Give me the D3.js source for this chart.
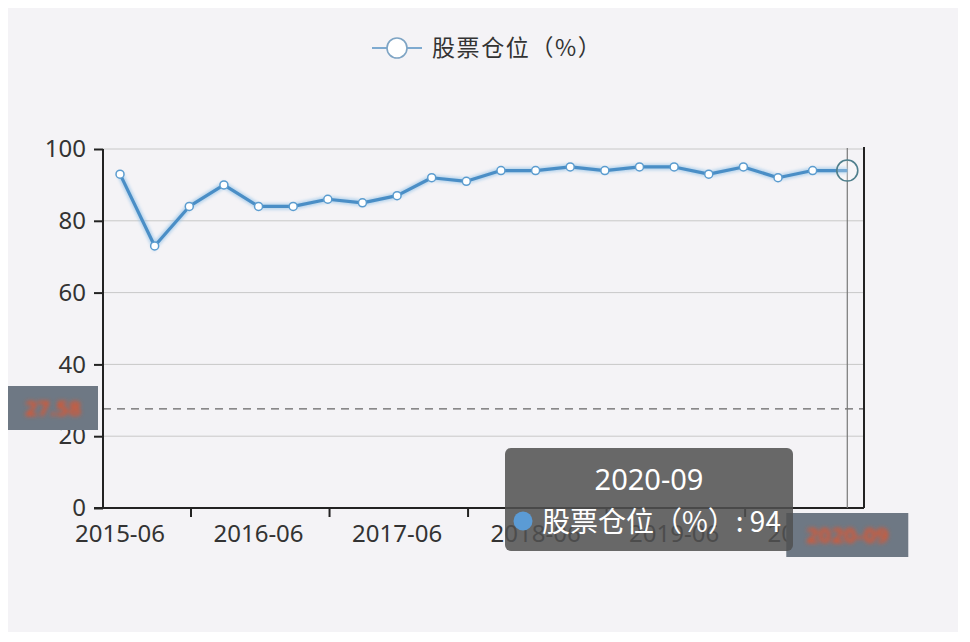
<!DOCTYPE html>
<html>
<head>
<meta charset="utf-8">
<script src="https://cdn.jsdelivr.net/npm/d3@7/dist/d3.min.js"></script>
<style>
  html, body { margin: 0; padding: 0; background: #ffffff; }
  svg { display: block; }
</style>
</head>
<body>
<svg id="chart" width="970" height="642"></svg>
<script>
// ---- data ----
const categories = [
  "2015-06","2015-09","2015-12",
  "2016-03","2016-06","2016-09","2016-12",
  "2017-03","2017-06","2017-09","2017-12",
  "2018-03","2018-06","2018-09","2018-12",
  "2019-03","2019-06","2019-09","2019-12",
  "2020-03","2020-06","2020-09"
];
const stockPosition = [93, 73, 84, 90, 84, 84, 86, 85, 87, 92, 91, 94, 94, 95, 94, 95, 95, 93, 95, 92, 94, 94];
const seriesName = "股票仓位（%）";
const yTicks = [0, 20, 40, 60, 80, 100];
const labelEvery = 4;
const hoverIndex = 21;
const pointerYValue = 27.6;
const pointerYLabel = "27.58";

// ---- layout ----
const svg = d3.select("#chart");
const pL = 103, pR = 864, pT = 149, pB = 508;
const font = "'Noto Sans', 'Noto Sans CJK SC', sans-serif";
const cjk = "'Noto Sans CJK SC', 'Noto Sans', sans-serif";

// panel background
svg.append("rect").attr("x", 8).attr("y", 8).attr("width", 950).attr("height", 624)
  .attr("fill", "#f4f3f6");

const defs = svg.append("defs");
const blur = defs.append("filter").attr("id", "blur").attr("x", "-20%").attr("y", "-50%")
  .attr("width", "140%").attr("height", "200%");
blur.append("feGaussianBlur").attr("stdDeviation", 2.2);
const glow = defs.append("filter").attr("id", "glow").attr("x", "-5%").attr("y", "-20%")
  .attr("width", "110%").attr("height", "140%");
glow.append("feGaussianBlur").attr("stdDeviation", 1.5);

const x = d3.scaleBand().domain(categories).range([pL - 0.3, pR + 0.6]).padding(0);
const cx = d => x(d) + x.bandwidth() / 2;
const y = d3.scaleLinear().domain([0, 100]).range([pB, pT]);

// gridlines
svg.append("g").selectAll("line").data(yTicks.filter(v => v > 0)).join("line")
  .attr("x1", pL).attr("x2", pR)
  .attr("y1", d => y(d)).attr("y2", d => y(d))
  .attr("stroke", "#c8c8c8").attr("stroke-width", 1);

// y pointer dashed line
svg.append("line").attr("x1", pL).attr("x2", pR)
  .attr("y1", y(pointerYValue)).attr("y2", y(pointerYValue))
  .attr("stroke", "#666").attr("stroke-width", 1.2).attr("stroke-dasharray", "8,6");

// y axis
const yAxis = d3.axisLeft(y).tickValues(yTicks).tickSize(9).tickPadding(6);
const gy = svg.append("g").attr("transform", `translate(${pL},0)`).call(yAxis);
gy.select(".domain").attr("stroke", "#222").attr("stroke-width", 2).attr("d", `M0,${pT}V${pB}`);
gy.selectAll(".tick line").attr("stroke", "#222").attr("stroke-width", 2);
gy.selectAll(".tick text").attr("font-family", font).attr("font-size", 24).attr("fill", "#333")
  .attr("x", -17);

// right axis line
svg.append("line").attr("x1", pR).attr("x2", pR).attr("y1", pT - 2).attr("y2", pB)
  .attr("stroke", "#222").attr("stroke-width", 2);

// x axis
const labelCats = categories.filter((c, i) => i % labelEvery === 0);
const tickCats = categories.filter((c, i) => i % labelEvery === 2);
const gx = svg.append("g").attr("transform", `translate(0,${pB})`);
gx.append("line").attr("x1", pL - 9).attr("x2", pR).attr("y1", 0).attr("y2", 0)
  .attr("stroke", "#222").attr("stroke-width", 2);
gx.selectAll("line.tk").data(tickCats).join("line").attr("class", "tk")
  .attr("x1", d => x(d) + x.bandwidth() * 0.55).attr("x2", d => x(d) + x.bandwidth() * 0.55)
  .attr("y1", 0).attr("y2", 9).attr("stroke", "#222").attr("stroke-width", 2);
gx.selectAll("text").data(labelCats).join("text")
  .attr("x", d => cx(d)).attr("y", 34)
  .attr("text-anchor", "middle").attr("font-family", font).attr("font-size", 24)
  .attr("fill", "#333").text(d => d);

// axis pointer vertical line
svg.append("line").attr("x1", cx(categories[hoverIndex])).attr("x2", cx(categories[hoverIndex]))
  .attr("y1", pT - 1).attr("y2", pB).attr("stroke", "#777").attr("stroke-width", 1.2);

// line series
const data = categories.map((c, i) => ({ c, v: stockPosition[i] }));
const line = d3.line().x(d => cx(d.c)).y(d => y(d.v));
svg.append("path").datum(data).attr("d", line).attr("fill", "none")
  .attr("stroke", "#8fc0e6").attr("stroke-width", 6.5).attr("opacity", 0.6).attr("filter", "url(#glow)");
svg.append("path").datum(data).attr("d", line).attr("fill", "none")
  .attr("stroke", "#4a8ec6").attr("stroke-width", 3.2).attr("stroke-linejoin", "round");
svg.append("g").selectAll("circle").data(data.filter((d, i) => i !== hoverIndex)).join("circle")
  .attr("cx", d => cx(d.c)).attr("cy", d => y(d.v)).attr("r", 4)
  .attr("fill", "#ffffff").attr("stroke", "#5b9ccf").attr("stroke-width", 1.5);
const hd = data[hoverIndex];
svg.append("circle").attr("cx", cx(hd.c)).attr("cy", y(hd.v)).attr("r", 10.5)
  .attr("fill", "rgba(255,255,255,0.25)").attr("stroke", "#4f7f8c").attr("stroke-width", 1.6);

// legend
const lg = svg.append("g");
lg.append("line").attr("x1", 372).attr("x2", 422).attr("y1", 48).attr("y2", 48)
  .attr("stroke", "#7eaad0").attr("stroke-width", 2);
lg.append("circle").attr("cx", 397).attr("cy", 48).attr("r", 10)
  .attr("fill", "#ffffff").attr("stroke", "#7ea4c4").attr("stroke-width", 1.6);
lg.append("text").attr("x", 432).attr("y", 56).attr("font-family", cjk).attr("font-size", 23)
  .attr("letter-spacing", 1.6).attr("fill", "#333").text(seriesName);

// y pointer label (left)
svg.append("rect").attr("x", 8).attr("y", 386).attr("width", 90).attr("height", 44)
  .attr("fill", "#6e7884");
svg.append("text").attr("x", 53).attr("y", 416).attr("text-anchor", "middle")
  .attr("font-family", font).attr("font-size", 22).attr("font-weight", "bold")
  .attr("fill", "#e0552e").attr("filter", "url(#blur)").text(pointerYLabel);

// x pointer label (bottom)
svg.append("rect").attr("x", cx(hd.c) - 61).attr("y", 513).attr("width", 122).attr("height", 44)
  .attr("fill", "#6e7884");
svg.append("text").attr("x", cx(hd.c)).attr("y", 543).attr("text-anchor", "middle")
  .attr("font-family", font).attr("font-size", 22).attr("font-weight", "bold")
  .attr("fill", "#e0552e").attr("filter", "url(#blur)").text(hd.c);

// tooltip
const tt = svg.append("g");
tt.append("rect").attr("x", 505).attr("y", 448).attr("width", 288).attr("height", 103)
  .attr("rx", 6).attr("fill", "rgba(80,80,80,0.86)");
tt.append("text").attr("x", 649).attr("y", 490).attr("text-anchor", "middle")
  .attr("font-family", font).attr("font-size", 29).attr("fill", "#ffffff").text(hd.c);
tt.append("circle").attr("cx", 523).attr("cy", 521).attr("r", 9.5).attr("fill", "#5b9bd5");
tt.append("text").attr("x", 542).attr("y", 532)
  .attr("font-family", cjk).attr("font-size", 28).attr("fill", "#ffffff")
  .text(seriesName + ": " + hd.v);
</script>
</body>
</html>
